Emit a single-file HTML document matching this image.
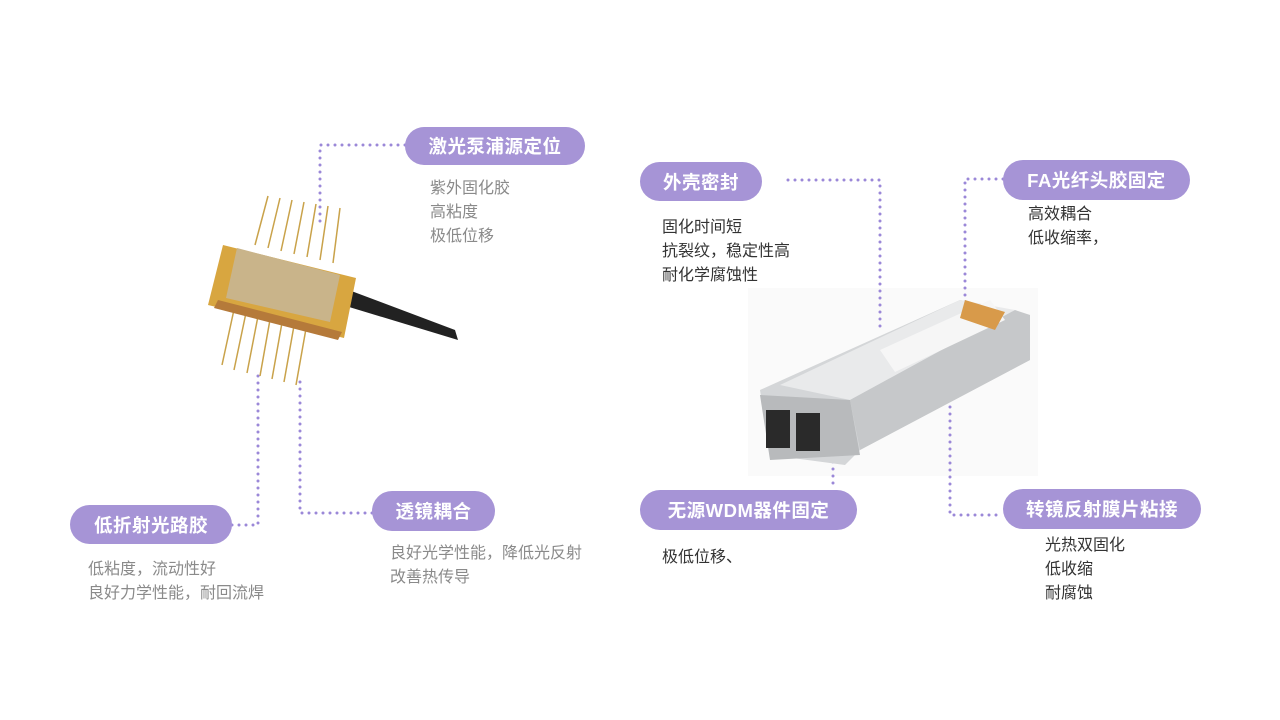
<!DOCTYPE html>
<html><head><meta charset="utf-8">
<style>
body{margin:0;width:1280px;height:720px;background:#fff;position:relative;overflow:hidden;font-family:"Liberation Sans","Noto Sans CJK SC",sans-serif}
.pill{position:absolute;background:#a694d6;color:#fff;font-weight:bold;font-size:18.5px;border-radius:20px;display:flex;align-items:center;justify-content:center;letter-spacing:0.5px}
.t{position:absolute;font-size:16px;line-height:24px;white-space:nowrap}
.g{color:#8a8a8a}.d{color:#333}
svg{position:absolute;left:0;top:0}
</style></head><body>
<svg width="1280" height="720">
<rect x="748" y="288" width="290" height="188" fill="#fafafa"/>
<g stroke="#9b88d8" stroke-width="3" stroke-linecap="round" stroke-dasharray="0 7" fill="none">
<path d="M405 145 H320 V228"/>
<path d="M788 180 H880 V328"/>
<path d="M1003 179 H965 V330"/>
<path d="M833 455 V490"/>
<path d="M950 400 V515 H1003"/>
<path d="M232 525 H258 V375"/>
<path d="M372 513 H300 V375"/>
</g>
<g>
<g stroke="#c9a24a" stroke-width="1.5">
<line x1="268" y1="196" x2="255" y2="245"/><line x1="280" y1="198" x2="268" y2="248"/><line x1="292" y1="200" x2="281" y2="251"/><line x1="304" y1="202" x2="294" y2="254"/><line x1="316" y1="204" x2="307" y2="257"/><line x1="328" y1="206" x2="320" y2="260"/><line x1="340" y1="208" x2="333" y2="263"/>
<line x1="235" y1="305" x2="222" y2="365"/><line x1="247" y1="308" x2="234" y2="370"/><line x1="259" y1="311" x2="247" y2="373"/><line x1="271" y1="314" x2="260" y2="376"/><line x1="283" y1="317" x2="272" y2="379"/><line x1="295" y1="320" x2="284" y2="382"/><line x1="307" y1="323" x2="296" y2="385"/>
</g>
<path d="M326 300 L458 340 L455 330 L330 283 Z" fill="#222"/>
<polygon points="223,245 356,278 344,338 208,305" fill="#d8a640"/>
<polygon points="237,248 340,275 330,322 226,298" fill="#c9b48a"/>
<polygon points="218,300 342,332 338,340 214,308" fill="#b57a3a"/>
</g>
<g>
<polygon points="760,390 960,300 1030,315 1030,360 860,450 845,465 770,455" fill="#d4d6d8"/>
<polygon points="780,385 960,300 1015,310 850,400" fill="#e9eaeb"/>
<polygon points="850,400 1015,310 1030,315 1030,360 860,450" fill="#c6c8ca"/>
<polygon points="880,350 990,300 1005,320 895,372" fill="#f6f6f6"/>
<polygon points="965,300 1005,312 995,330 960,318" fill="#d89a4a"/>
<polygon points="760,395 850,400 860,455 770,460" fill="#b8babc"/>
<rect x="766" y="410" width="24" height="38" fill="#2a2a2a"/>
<rect x="796" y="413" width="24" height="38" fill="#2a2a2a"/>
</g>
</svg>
<div class="pill" style="left:405px;top:127px;width:180px;height:38px">激光泵浦源定位</div>
<div class="t g" style="left:430px;top:177px">紫外固化胶<br>高粘度<br>极低位移</div>
<div class="pill" style="left:640px;top:162px;width:122px;height:39px">外壳密封</div>
<div class="t d" style="left:662px;top:216px">固化时间短<br>抗裂纹，稳定性高<br>耐化学腐蚀性</div>
<div class="pill" style="left:1003px;top:160px;width:187px;height:40px">FA光纤头胶固定</div>
<div class="t d" style="left:1028px;top:203px">高效耦合<br>低收缩率，</div>
<div class="pill" style="left:640px;top:490px;width:217px;height:40px">无源WDM器件固定</div>
<div class="t d" style="left:662px;top:546px">极低位移、</div>
<div class="pill" style="left:1003px;top:489px;width:198px;height:40px">转镜反射膜片粘接</div>
<div class="t d" style="left:1045px;top:534px">光热双固化<br>低收缩<br>耐腐蚀</div>
<div class="pill" style="left:70px;top:505px;width:162px;height:39px">低折射光路胶</div>
<div class="t g" style="left:88px;top:558px">低粘度，流动性好<br>良好力学性能，耐回流焊</div>
<div class="pill" style="left:372px;top:491px;width:123px;height:40px">透镜耦合</div>
<div class="t g" style="left:390px;top:542px">良好光学性能，降低光反射<br>改善热传导</div>
</body></html>
